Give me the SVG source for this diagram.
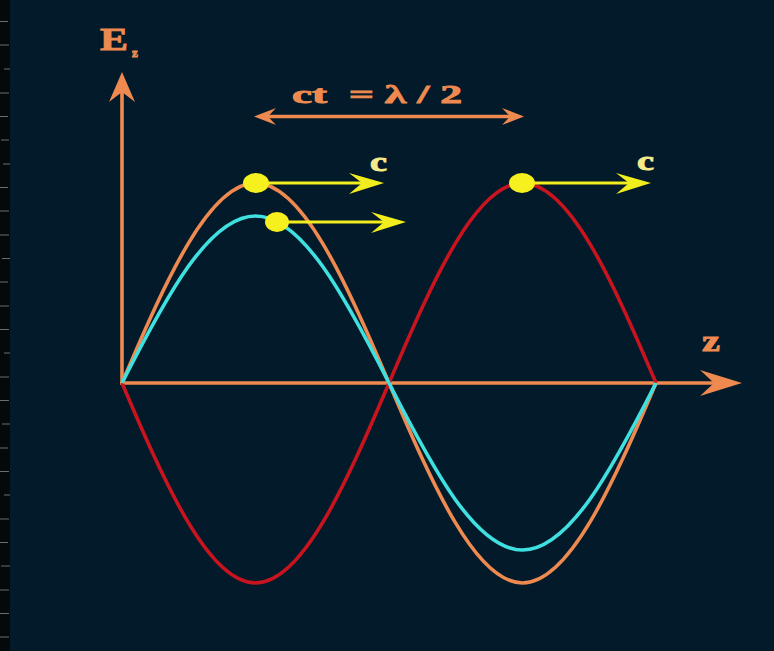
<svg xmlns="http://www.w3.org/2000/svg" width="774" height="651" viewBox="0 0 774 651">
<style>
.orange{stroke:#ee8a50;fill:none;stroke-width:3.6}
.red{stroke:#c8141e;fill:none;stroke-width:3.6}
.cyan{stroke:#3fe0e0;fill:none;stroke-width:3.6}
.yl{stroke:#f2ee1e;stroke-width:3;fill:none}
.ball{fill:#f5f01e}
.ahy{fill:#f2ee1e}
.aho{fill:#ee8a50}
.lbl{font-family:"Liberation Serif","DejaVu Serif",serif;font-weight:bold;fill:#ee8a50;stroke:#ee8a50;stroke-width:0.9}
.clbl{font-family:"Liberation Serif","DejaVu Serif",serif;font-weight:bold;fill:#f4ea8c;stroke:#f4ea8c;stroke-width:0.9}
.tick{stroke:#6a6e70;stroke-width:1}
</style>
<rect x="0" y="0" width="774" height="651" fill="#031a2a"/>
<g id="film-strip">
<rect x="0" y="0" width="10" height="651" fill="#04090c"/>
<path class="tick" d="M0 21.5H8M0 45H9M4 69H10M0 93H9M0 116.5H8M1 140H9M3 164H10M0 187.5H8M0 211H9M0 235H9M2 258.5H10M0 282H8M0 306H9M0 329.5H9M4 353H10M0 377H9M0 400.5H9M2 424H10M0 448H8M0 471.5H9M4 495H10M0 519H9M0 542.5H8M1 566H10M0 590H9M0 613.5H9M0 637H9"/>
</g>
<g id="axes">
<line class="orange" x1="120" y1="383" x2="722" y2="383"/>
<polygon class="aho" points="742,383 700,370 714,383 700,396"/>
<line class="orange" x1="122" y1="385" x2="122" y2="88"/>
<polygon class="aho" points="122,72 109,102 122,92 135,102"/>
</g>
<g id="wave-orange">
<path class="orange" d="M122 383C166.4 278.5 209.3 183 255.5 183C301.7 183 344.6 278.5 389 383C433.4 487.5 476.3 583 522.5 583C568.7 583 611.6 487.5 656 383"/>
</g>
<g id="wave-red">
<path class="red" d="M122 383C166.4 487.5 209.3 583 255.5 583C301.7 583 344.6 487.5 389 383C433.4 278.5 476.3 183 522.5 183C568.7 183 611.6 278.5 656 383"/>
</g>
<g id="wave-cyan">
<path class="cyan" d="M122 383C166.4 295.8 209.3 216 255.5 216C301.7 216 344.6 295.8 389 383C433.4 470.2 476.3 550 522.5 550C568.7 550 611.6 470.2 656 383"/>
</g>
<g id="connectors">
<line class="yl" x1="256" y1="183" x2="368" y2="183"/>
<polygon class="ahy" points="384,183 349,173 362,183 349,194"/>
<line class="yl" x1="277" y1="222" x2="390" y2="222"/>
<polygon class="ahy" points="406,222 371,212 384,222 371,233"/>
<line class="yl" x1="522" y1="183" x2="634" y2="183"/>
<polygon class="ahy" points="651,183 616,173 629,183 616,194"/>
<line class="orange" x1="268" y1="116.5" x2="510" y2="116.5"/>
<polygon class="aho" points="254,116.5 276,108 268,116.5 276,125"/>
<polygon class="aho" points="524,116.5 502,108 510,116.5 502,125"/>
</g>
<g id="dots">
<ellipse class="ball" cx="256" cy="183" rx="13" ry="10"/>
<ellipse class="ball" cx="277" cy="222" rx="12" ry="10"/>
<ellipse class="ball" cx="522" cy="183" rx="13" ry="10"/>
</g>
<g id="labels">
<text class="lbl" x="100" y="50" font-size="32" textLength="28" lengthAdjust="spacingAndGlyphs">E</text>
<text class="lbl" x="132" y="57" font-size="13">z</text>
<text class="lbl" x="292" y="103" font-size="26" textLength="35" lengthAdjust="spacingAndGlyphs">ct</text>
<text class="lbl" x="349" y="103" font-size="26" textLength="113" lengthAdjust="spacingAndGlyphs">= λ / 2</text>
<text class="lbl" x="702" y="351" font-size="30" textLength="18" lengthAdjust="spacingAndGlyphs">z</text>
<text class="clbl" x="370" y="171" font-size="28" textLength="17" lengthAdjust="spacingAndGlyphs">c</text>
<text class="clbl" x="637" y="170" font-size="28" textLength="17" lengthAdjust="spacingAndGlyphs">c</text>
</g>
</svg>
